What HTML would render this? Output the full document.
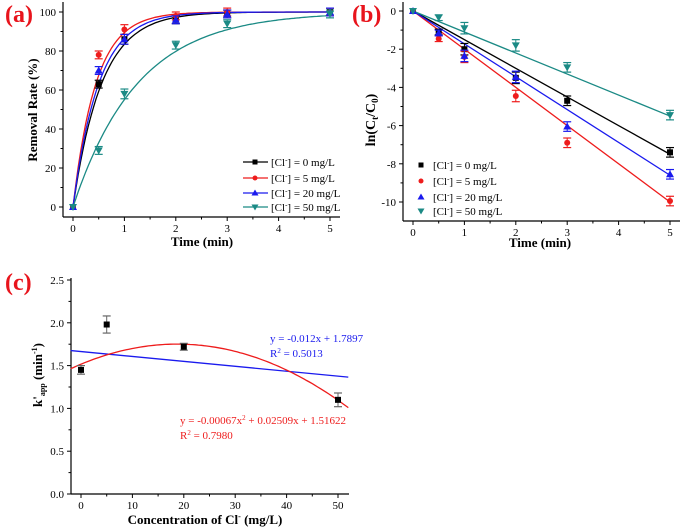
<!DOCTYPE html>
<html><head><meta charset="utf-8"><style>
body{margin:0;background:#fff;}
svg{display:block;font-family:"Liberation Serif",serif;}
</style></head><body>
<svg id="fig" width="685" height="529" viewBox="0 0 685 529" xmlns="http://www.w3.org/2000/svg"></svg>
<script>
// ---------- data ----------
const timeA = [0, 0.5, 1, 2, 3, 5];
const seriesNames = ["0 mg/L", "5 mg/L", "20 mg/L", "50 mg/L"];
const removal0 = [0, 63, 86, 96, 99, 100];
const removal5 = [0, 78, 91, 98, 100, 100];
const removal20 = [0, 70, 86, 96, 99, 100];
const removal50 = [0, 29, 58, 83, 94, 99];
const removalErr = [1, 2, 2.5, 2, 2, 2];
const fitKa = [1.8, 2.25, 2.0, 0.8];
const ln0 = [0, -1.1, -2.0, -3.5, -4.7, -7.4];
const ln5 = [0, -1.45, -2.4, -4.45, -6.9, -9.95];
const ln20 = [0, -1.15, -2.35, -3.45, -6.05, -8.55];
const ln50 = [0, -0.35, -0.9, -1.8, -2.95, -5.45];
const lnErr = [0, 0.15, 0.3, 0.3, 0.25, 0.25];
const slopesB = [-1.5, -2.0, -1.72, -1.1];
const concC = [0, 5, 20, 50];
const kappC = [1.45, 1.98, 1.72, 1.10];
const kappErr = [0.05, 0.1, 0.04, 0.08];
const quadCoef = [-0.00067, 0.02509, 1.51622];
const linFit = [-0.00574, 1.664];
const ticksA_x = [0, 1, 2, 3, 4, 5];
const ticksA_y = [0, 20, 40, 60, 80, 100];
const ticksB_y = [0, -2, -4, -6, -8, -10];
const ticksC_x = [0, 10, 20, 30, 40, 50];
const ticksC_y = [0.0, 0.5, 1.0, 1.5, 2.0, 2.5];
const colors = ["#000000", "#ee1c1c", "#1a1aee", "#1b8a85"];
const markers = ["square", "circle", "up", "down"];

const svg = document.getElementById('fig');
const NS = "http://www.w3.org/2000/svg";
function mk(tag, attrs, parent) {
  const e = document.createElementNS(NS, tag);
  for (const k in attrs) e.setAttribute(k, attrs[k]);
  (parent || svg).appendChild(e);
  return e;
}
function scale(d0, d1, r0, r1) { return v => r0 + (v - d0) * (r1 - r0) / (d1 - d0); }

function marker(g, type, x, y, c, s) {
  let e;
  if (type === "square") e = mk('rect', {x: x - s, y: y - s, width: 2 * s, height: 2 * s, fill: c}, g);
  else if (type === "circle") e = mk('circle', {cx: x, cy: y, r: s, fill: c}, g);
  else if (type === "up") e = mk('polygon', {points: `${x},${y - s - 1} ${x - s - 1},${y + s} ${x + s + 1},${y + s}`, fill: c}, g);
  else e = mk('polygon', {points: `${x},${y + s + 1} ${x - s - 1},${y - s} ${x + s + 1},${y - s}`, fill: c}, g);
  
  
}
function errbar(g, x, y1, y2, c) {
  mk('line', {x1: x, y1: y1, x2: x, y2: y2, stroke: c, 'stroke-width': 1}, g);
  mk('line', {x1: x - 4, y1: y1, x2: x + 4, y2: y1, stroke: c, 'stroke-width': 1.2}, g);
  mk('line', {x1: x - 4, y1: y2, x2: x + 4, y2: y2, stroke: c, 'stroke-width': 1.2}, g);
}
function axes(g, left, right, top, bottom, xs, ys, xt, yt, minorX, minorY, fmtY) {
  const ax = mk('g', {}, g);
  
  
  mk('line', {x1: left, y1: top, x2: left, y2: bottom, stroke: '#000', 'stroke-width': 1.2}, ax);
  mk('line', {x1: left, y1: bottom, x2: right, y2: bottom, stroke: '#000', 'stroke-width': 1.2}, ax);
  xt.forEach(v => {
    const x = xs(v);
    mk('line', {x1: x, y1: bottom, x2: x, y2: bottom + 4, stroke: '#000'}, ax);
    const t = mk('text', {x: x, y: bottom + 15, 'font-size': 11, 'text-anchor': 'middle'}, ax);
    t.textContent = v;
    
    
  });
  minorX.forEach(v => mk('line', {x1: xs(v), y1: bottom, x2: xs(v), y2: bottom + 2.5, stroke: '#000'}, ax));
  yt.forEach(v => {
    const y = ys(v);
    mk('line', {x1: left, y1: y, x2: left - 4, y2: y, stroke: '#000'}, ax);
    const t = mk('text', {x: left - 7, y: y + 4, 'font-size': 11, 'text-anchor': 'end'}, ax);
    t.textContent = fmtY ? fmtY(v) : v;
    
    
  });
  minorY.forEach(v => mk('line', {x1: left, y1: ys(v), x2: left - 2.5, y2: ys(v), stroke: '#000'}, ax));
}
function label(txt, x, y) {
  const t = mk('text', {x: x, y: y, 'font-size': 24, 'font-weight': 'bold', fill: '#e8141c'});
  t.textContent = txt;
  
  
}
function legendText(g, x, y, name) {
  const t = mk('text', {x: x, y: y + 4, 'font-size': 11}, g);
  t.innerHTML = '[Cl<tspan dy="-4" font-size="7">-</tspan><tspan dy="4">] = ' + name + '</tspan>';
}

// ---------- panel a ----------
{
  const g = mk('g', {});
  
  
  const xs = scale(0, 5, 73, 330), ys = scale(0, 100, 207, 12);
  axes(g, 63, 340, 2, 217, xs, ys, ticksA_x, ticksA_y, [0.5,1.5,2.5,3.5,4.5], [10,30,50,70,90], null);
  const series = [removal0, removal5, removal20, removal50];
  series.forEach((s, i) => {
    let d = '';
    for (let j = 0; j <= 100; j++) {
      const t = 5 * j / 100;
      const v = 100 * (1 - Math.exp(-fitKa[i] * t));
      d += (j ? 'L' : 'M') + xs(t).toFixed(1) + ',' + ys(v).toFixed(1);
    }
    const p = mk('path', {d: d, fill: 'none', stroke: colors[i], 'stroke-width': 1.3}, g);
    
    
  });
  series.forEach((s, i) => {
    s.forEach((v, j) => {
      if (j > 0) errbar(g, xs(timeA[j]), ys(v + removalErr[j]), ys(v - removalErr[j]), colors[i]);
      marker(g, markers[i], xs(timeA[j]), ys(v), colors[i], 3);
    });
  });
  const lg = mk('g', {}, g);
  
  
  [162, 178, 193, 207].forEach((y, i) => {
    mk('line', {x1: 243, y1: y, x2: 268, y2: y, stroke: colors[i], 'stroke-width': 1.3}, lg);
    marker(lg, markers[i], 255, y, colors[i], 2.5);
    legendText(lg, 271, y, seriesNames[i]);
  });
  const xt = mk('text', {x: 202, y: 246, 'font-size': 13, 'font-weight': 'bold', 'text-anchor': 'middle'}, g);
  xt.textContent = 'Time (min)';
  
  
  const yt = mk('text', {x: 0, y: 0, 'font-size': 13, 'font-weight': 'bold', 'text-anchor': 'middle', transform: 'translate(37,110) rotate(-90)'}, g);
  yt.textContent = 'Removal Rate (%)';
  
  
  label('(a)', 5, 22);
}

// ---------- panel b ----------
{
  const g = mk('g', {});
  
  
  const xs = scale(0, 5, 413, 670), ys = scale(0, -10, 11, 202);
  axes(g, 403, 680, 2, 221, xs, ys, ticksA_x, ticksB_y, [0.5,1.5,2.5,3.5,4.5], [-1,-3,-5,-7,-9], null);
  slopesB.forEach((k, i) => {
    const l = mk('line', {x1: xs(0), y1: ys(0), x2: xs(5), y2: ys(5 * k), stroke: colors[i], 'stroke-width': 1.3}, g);
    
    
  });
  [ln0, ln5, ln20, ln50].forEach((s, i) => {
    s.forEach((v, j) => {
      if (j > 0) errbar(g, xs(timeA[j]), ys(v + lnErr[j]), ys(v - lnErr[j]), colors[i]);
      marker(g, markers[i], xs(timeA[j]), ys(v), colors[i], 3);
    });
  });
  const lg = mk('g', {}, g);
  
  
  [165, 181, 197, 211].forEach((y, i) => {
    marker(lg, markers[i], 421, y, colors[i], 2.5);
    legendText(lg, 433, y, seriesNames[i]);
  });
  const xt = mk('text', {x: 540, y: 247, 'font-size': 13, 'font-weight': 'bold', 'text-anchor': 'middle'}, g);
  xt.textContent = 'Time (min)';
  
  
  const yt = mk('text', {x: 0, y: 0, 'font-size': 14, 'font-weight': 'bold', 'text-anchor': 'middle', transform: 'translate(375,120) rotate(-90)'}, g);
  yt.innerHTML = 'ln(C<tspan dy="3" font-size="9">t</tspan><tspan dy="-3">/C</tspan><tspan dy="3" font-size="9">0</tspan><tspan dy="-3">)</tspan>';
  
  
  label('(b)', 352, 22);
}

// ---------- panel c ----------
{
  const g = mk('g', {});
  
  
  const xs = scale(0, 50, 81, 338), ys = scale(0, 2.5, 494, 280);
  axes(g, 71, 349, 278, 494, xs, ys, ticksC_x, ticksC_y, [5,15,25,35,45], [0.25,0.75,1.25,1.75,2.25], v => v.toFixed(1));
  const bl = mk('line', {x1: xs(-2), y1: ys(linFit[0] * -2 + linFit[1]), x2: xs(52), y2: ys(linFit[0] * 52 + linFit[1]), stroke: '#1a1aee', 'stroke-width': 1.3}, g);
  
  
  let d = '';
  for (let j = 0; j <= 100; j++) {
    const x = -2 + 54 * j / 100;
    const v = quadCoef[0] * x * x + quadCoef[1] * x + quadCoef[2];
    d += (j ? 'L' : 'M') + xs(x).toFixed(1) + ',' + ys(v).toFixed(1);
  }
  const qp = mk('path', {d: d, fill: 'none', stroke: '#ee1c1c', 'stroke-width': 1.3}, g);
  
  
  concC.forEach((c, i) => {
    errbar(g, xs(c), ys(kappC[i] + kappErr[i]), ys(kappC[i] - kappErr[i]), '#666');
    marker(g, 'square', xs(c), ys(kappC[i]), '#000', 3);
  });
  const a1 = mk('text', {x: 270, y: 342, 'font-size': 11, fill: '#1a1aee'}, g);
  a1.textContent = 'y = -0.012x + 1.7897';
  
  
  const a2 = mk('text', {x: 270, y: 357, 'font-size': 11, fill: '#1a1aee'}, g);
  a2.innerHTML = 'R<tspan dy="-4" font-size="7">2</tspan><tspan dy="4"> = 0.5013</tspan>';
  
  
  const a3 = mk('text', {x: 180, y: 424, 'font-size': 11, fill: '#ee1c1c'}, g);
  a3.innerHTML = 'y = -0.00067x<tspan dy="-4" font-size="7">2</tspan><tspan dy="4"> + 0.02509x + 1.51622</tspan>';
  
  
  const a4 = mk('text', {x: 180, y: 439, 'font-size': 11, fill: '#ee1c1c'}, g);
  a4.innerHTML = 'R<tspan dy="-4" font-size="7">2</tspan><tspan dy="4"> = 0.7980</tspan>';
  
  
  const xt = mk('text', {x: 205, y: 524, 'font-size': 13, 'font-weight': 'bold', 'text-anchor': 'middle'}, g);
  xt.innerHTML = 'Concentration of Cl<tspan dy="-5" font-size="8">-</tspan><tspan dy="5"> (mg/L)</tspan>';
  
  
  const yt = mk('text', {x: 0, y: 0, 'font-size': 13, 'font-weight': 'bold', 'text-anchor': 'middle', transform: 'translate(42,375) rotate(-90)'}, g);
  yt.innerHTML = `k'<tspan dy="3" font-size="8">app</tspan><tspan dy="-3"> (min</tspan><tspan dy="-5" font-size="8">-1</tspan><tspan dy="5">)</tspan>`;
  
  
  label('(c)', 5, 290);
}
</script>
</body></html>
